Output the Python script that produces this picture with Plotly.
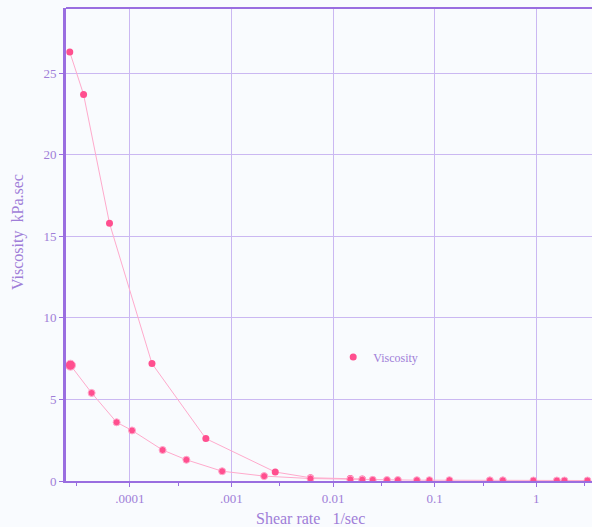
import plotly.graph_objects as go
import numpy as np

# Upper branch (shear rate 1/sec, viscosity kPa.sec)
up_shear = [2.56e-5, 3.5e-5, 6.3e-5, 1.65e-4, 5.6e-4, 2.7e-3, 6.0e-3, 0.0148, 0.0194]
up_visc = [26.3, 23.7, 15.8, 7.2, 2.6, 0.55, 0.2, 0.15, 0.12]

# Lower branch
low_shear = [2.6e-5, 4.2e-5, 7.4e-5, 1.05e-4, 2.1e-4, 3.6e-4, 8.1e-4, 2.1e-3, 6.0e-3,
             0.0148, 0.0194, 0.0246, 0.034, 0.0435, 0.067, 0.089, 0.14, 0.35, 0.47,
             0.94, 1.6, 1.9, 3.2]
low_visc = [7.1, 5.4, 3.6, 3.1, 1.9, 1.3, 0.6, 0.3, 0.15,
            0.1, 0.08, 0.07, 0.06, 0.06, 0.05, 0.05, 0.05, 0.04, 0.04,
            0.03, 0.03, 0.03, 0.03]
low_sizes = [10] + [7] * (len(low_shear) - 1)

x_tickvals = [1e-4, 1e-3, 1e-2, 1e-1, 1]
x_ticktext = [".0001", ".001", "0.01", "0.1", "1"]
y_tickvals = [0, 5, 10, 15, 20, 25]
x_title = "Shear rate   1/sec"
y_title = "Viscosity  kPa.sec"

line_col = "#ffaacc"
mark_col = "#ff4f8f"
grid_col = "#cbb8f2"
axis_col = "#9a6ee0"
text_col = "#a07ed8"
font_family = "Liberation Serif"

fig = go.Figure()
fig.add_trace(go.Scatter(x=up_shear, y=up_visc, mode="lines+markers", name="Viscosity",
                         line=dict(color=line_col, width=1),
                         marker=dict(color=mark_col, size=7, opacity=1), showlegend=False))
fig.add_trace(go.Scatter(x=low_shear, y=low_visc, mode="lines+markers", name="Viscosity",
                         line=dict(color=line_col, width=1),
                         marker=dict(color=mark_col, size=low_sizes, opacity=1), showlegend=False))
fig.add_trace(go.Scatter(x=[None], y=[None], mode="markers", name="Viscosity",
                         marker=dict(color=mark_col, size=7), showlegend=True))

fig.update_layout(
    width=592, height=527,
    margin=dict(l=66, r=0, t=8, b=46),
    paper_bgcolor="#f9fbfe", plot_bgcolor="#f9fbfe",
    font=dict(family=font_family, color=text_col, size=13),
    legend=dict(x=0.508, y=0.262, xanchor="left", yanchor="middle",
                bgcolor="rgba(0,0,0,0)", font=dict(size=12, color=text_col)),
    xaxis=dict(type="log", range=[np.log10(2.35e-5), 0.55], automargin=False,
               tickvals=x_tickvals, ticktext=x_ticktext,
               showgrid=True, gridcolor=grid_col, gridwidth=1,
               showline=True, linecolor=axis_col, linewidth=2, mirror=False,
               ticks="outside", ticklen=4, tickcolor=axis_col,
               minor=dict(tickvals=[3e-5, 3e-4, 3e-3, 3e-2, 3e-1, 3], ticks="outside",
                          ticklen=3, tickcolor=axis_col, showgrid=False),
               zeroline=False),
    yaxis=dict(range=[0, 29], tickvals=y_tickvals, automargin=False,
               showgrid=True, gridcolor=grid_col, gridwidth=1,
               showline=True, linecolor=axis_col, linewidth=3,
               ticks="outside", ticklen=4, tickcolor=axis_col,
               zeroline=False),
    annotations=[
        dict(text=x_title, xref="paper", yref="paper", x=(310 - 66) / 526, y=-37 / 473,
             xanchor="center", yanchor="middle", showarrow=False,
             font=dict(size=16, color=text_col, family=font_family)),
        dict(text=y_title, xref="paper", yref="paper", x=-48 / 526, y=(481 - 232) / 473,
             xanchor="center", yanchor="middle", showarrow=False, textangle=-90,
             font=dict(size=16, color=text_col, family=font_family)),
    ],
)
# top border line
fig.add_shape(type="line", xref="paper", yref="paper", x0=0, x1=1, y0=1, y1=1,
              line=dict(color=axis_col, width=2))

fig.write_html("out.html", config={"displayModeBar": False},
               post_script="document.body.style.margin='0';document.body.style.overflow='hidden';")
